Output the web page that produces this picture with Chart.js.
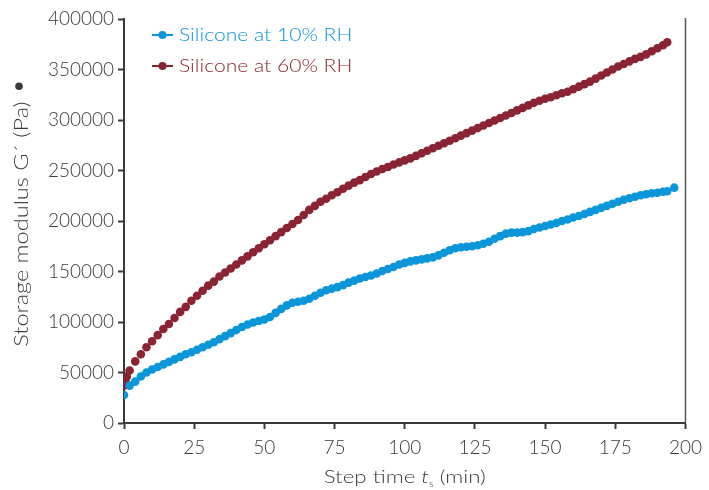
<!DOCTYPE html>
<html>
<head>
<meta charset="utf-8">
<script src="https://cdn.jsdelivr.net/npm/chart.js@4/dist/chart.umd.min.js"></script>
<style>
  html, body { margin: 0; padding: 0; background: #fff; }
  #wrap { width: 709px; height: 490px; }
</style>
</head>
<body>
<div id="wrap"><canvas id="modulusChart" width="709" height="490"></canvas></div>
<script>
const lowTime = [0, 2, 4, 6, 8, 10, 12, 14, 16, 18, 20, 22, 24, 26, 28, 30, 32, 34, 36, 38, 40, 42, 44, 46, 48,
  50, 52, 54, 56, 58, 60, 62, 64, 66, 68, 70, 72, 74, 76, 78, 80, 82, 84, 86, 88, 90, 92, 94, 96, 98,
  100, 102, 104, 106, 108, 110, 112, 114, 116, 118, 120, 122, 124, 126, 128, 130, 132, 134, 136, 138, 140,
  142, 144, 146, 148, 150, 152, 154, 156, 158, 160, 162, 164, 166, 168, 170, 172, 174, 176, 178, 180,
  182, 184, 186, 188, 190, 192, 193.5, 196];
const lowG = [27700, 37000, 41000, 46000, 50000, 53000, 55500, 58000, 60500, 63000, 65500, 68000, 70000, 72500,
  75000, 77500, 80000, 83000, 86000, 89000, 92000, 95000, 97500, 99500, 101000,
  102500, 105000, 109000, 113000, 116500, 119000, 120000, 121000, 123000, 126000, 129000, 131500, 133000, 134500, 136500,
  139000, 141000, 143000, 144500, 146000, 148000, 150500, 152500, 154500, 157000,
  158500, 160000, 161000, 162000, 163000, 164000, 166000, 168500, 171000, 173000, 174000, 174500, 175000, 176000, 177500,
  179500, 182500, 185000, 187500, 188500, 188500, 189000, 190000, 192000, 193500, 195000, 196500, 198000, 200000, 201500,
  203500, 205000, 207000, 209000, 211000, 213000, 215000, 217000, 219000, 221000, 222500,
  224000, 225500, 226500, 227500, 228000, 229000, 229500, 233000];

const highTime = [0, 0.5, 1, 2, 4, 6, 8, 10, 12, 14, 16, 18, 20, 22, 24, 26, 28, 30, 32, 34, 36, 38, 40, 42, 44, 46, 48,
  50, 52, 54, 56, 58, 60, 62, 64, 66, 68, 70, 72, 74, 76, 78, 80, 82, 84, 86, 88, 90, 92, 94, 96, 98,
  100, 102, 104, 106, 108, 110, 112, 114, 116, 118, 120, 122, 124, 126, 128, 130, 132, 134, 136, 138, 140,
  142, 144, 146, 148, 150, 152, 154, 156, 158, 160, 162, 164, 166, 168, 170, 172, 174, 176, 178, 180,
  182, 184, 186, 188, 190, 192, 193.5];
const highG = [37000, 42000, 46000, 52000, 61000, 68000, 75000, 81000, 87000, 93000, 98000, 104000, 110000, 115000,
  121000, 126000, 131000, 136000, 140000, 145000, 149000, 153000, 157000, 161000, 165000, 169000, 173000,
  177000, 181000, 185000, 189000, 193000, 197000, 201000, 206000, 211000, 215000, 219000, 222000, 225500, 228500,
  232000, 235000, 238000, 240500, 243500, 246500, 249000, 251500, 253500, 256000, 258000,
  260000, 262000, 264500, 267000, 269500, 272000, 274500, 277000, 279500, 282000, 284500, 287000, 289500, 292000,
  294500, 297000, 299500, 302000, 304500, 307000, 309500, 312000, 314500, 317000, 319000, 321000, 322500, 324500,
  326500, 328000, 330500, 333000, 335500, 338000, 341000, 344000, 347000, 350000, 353000, 355500, 358000,
  360500, 362500, 365000, 368000, 371000, 374000, 377000];

const seriesLabels = ['Silicone at 10% RH', 'Silicone at 60% RH'];
const xTicks = [0, 25, 50, 75, 100, 125, 150, 175, 200];
const yTicks = [0, 50000, 100000, 150000, 200000, 250000, 300000, 350000, 400000];

const BLUE = '#0a96d8', RED = '#8a2432', INK = '#3a3a3a';
const FONT = 'Lato, "Open Sans", sans-serif';
const WIDE = 1.24; // la fuente original es más ancha

const pts = (xs, ys) => xs.map((x, i) => ({ x, y: ys[i] }));

// texto ensanchado horizontalmente, devuelve el ancho
function wideText(ctx, txt, x, y, font) {
  ctx.save();
  ctx.font = font; ctx.textAlign = 'left';
  ctx.translate(x, y); ctx.scale(WIDE, 1);
  ctx.fillText(txt, 0, 0);
  const w = ctx.measureText(txt).width * WIDE;
  ctx.restore();
  return w;
}
function wideWidth(ctx, txt, font) { ctx.font = font; return ctx.measureText(txt).width * WIDE; }

// —— títulos, leyenda y marco derecho ——
const decor = {
  id: 'decor',
  afterDraw(chart) {
    const { ctx, chartArea: a } = chart;
    ctx.save();
    // línea derecha
    ctx.strokeStyle = '#555'; ctx.lineWidth = 1.5;
    ctx.beginPath(); ctx.moveTo(a.right, a.top - 1); ctx.lineTo(a.right, a.bottom); ctx.stroke();

    // leyenda
    [[BLUE, 35], [RED, 66]].forEach(([c, y], i) => {
      ctx.strokeStyle = c; ctx.fillStyle = c; ctx.lineWidth = 2;
      ctx.beginPath(); ctx.moveTo(152, y); ctx.lineTo(173, y); ctx.stroke();
      ctx.beginPath(); ctx.arc(162.5, y, 4, 0, Math.PI * 2); ctx.fill();
      ctx.textBaseline = 'middle';
      wideText(ctx, seriesLabels[i], 179, y + 1, '300 17px ' + FONT);
    });

    // título eje X
    ctx.fillStyle = INK; ctx.textBaseline = 'alphabetic';
    const base = 483;
    const parts = [['Step time ', '300 18px ' + FONT, 0], ['t', 'italic 300 18px ' + FONT, 0],
                   ['s', '300 9px ' + FONT, 4], [' (min)', '300 18px ' + FONT, 0]];
    let w = 0;
    parts.forEach(p => { w += wideWidth(ctx, p[0], p[1]); });
    let x = (a.left + a.right) / 2 - w / 2;
    parts.forEach(p => { x += wideText(ctx, p[0], x, base + p[2], p[1]); });

    // título eje Y
    ctx.translate(28, 224);
    ctx.rotate(-Math.PI / 2);
    const yt = 'Storage modulus G\u00B4 (Pa)', yf = '300 19px ' + FONT;
    const tw = wideWidth(ctx, yt, yf);
    wideText(ctx, yt, -tw / 2, 0, yf);
    ctx.beginPath(); ctx.arc(tw / 2 + 15, -9, 3.8, 0, Math.PI * 2); ctx.fill();
    ctx.restore();
  }
};

new Chart(document.getElementById('modulusChart'), {
  type: 'scatter',
  data: {
    datasets: [
      { label: seriesLabels[0], data: pts(lowTime, lowG), backgroundColor: BLUE, borderColor: BLUE,
        pointRadius: 4.3, pointBorderWidth: 0, showLine: false },
      { label: seriesLabels[1], data: pts(highTime, highG), backgroundColor: RED, borderColor: RED,
        pointRadius: 4.3, pointBorderWidth: 0, showLine: false }
    ]
  },
  options: {
    responsive: false, animation: false,
    layout: { padding: { top: 19, right: 19, left: 0, bottom: 0 } },
    plugins: { legend: { display: false }, tooltip: { enabled: false } },
    scales: {
      x: {
        type: 'linear', min: 0, max: 200,
        afterBuildTicks: s => { s.ticks = xTicks.map(v => ({ value: v })); },
        afterFit: s => { s.height = 67; },
        border: { display: true, color: INK, width: 2 },
        grid: { drawOnChartArea: false, drawTicks: true, tickLength: 6, tickColor: INK, tickWidth: 2 },
        ticks: { color: INK, font: { family: FONT, size: 19, weight: 300 }, padding: 7, maxRotation: 0 }
      },
      y: {
        type: 'linear', min: 0, max: 400000,
        afterBuildTicks: s => { s.ticks = yTicks.map(v => ({ value: v })); },
        afterFit: s => { s.width = 124; },
        border: { display: true, color: INK, width: 2 },
        grid: { drawOnChartArea: false, drawTicks: true, tickLength: 6, tickColor: INK, tickWidth: 2 },
        ticks: { color: INK, font: { family: FONT, size: 19, weight: 300 }, padding: 4, callback: v => String(v) }
      }
    }
  },
  plugins: [decor]
});
</script>
</body>
</html>
